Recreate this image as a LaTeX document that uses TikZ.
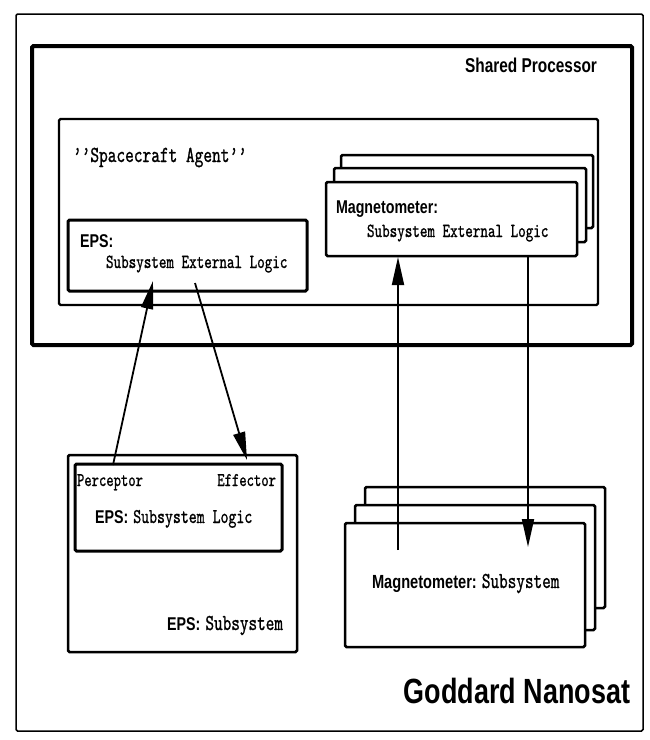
\documentclass[tikz,border=0pt]{standalone}
\usepackage{fontspec}
\usetikzlibrary{arrows.meta}
\newfontfamily\hb{Liberation Sans}[FakeStretch=0.77]
\newfontfamily\tw{lmmono10-regular.otf}[FakeStretch=0.72,FakeBold=0.9]
\begin{document}
\begin{tikzpicture}[x=1pt,y=-1pt,
  box/.style={draw, fill=white, rounded corners=1.5pt, inner sep=0pt, outer sep=0pt, anchor=north west},
  arr/.style={line width=1.8pt, -{Triangle[length=28pt,width=12pt]}},
  lbl/.style={inner sep=0pt, outer sep=0pt}
]
\useasboundingbox (0,0) rectangle (650,740);
\fill[white] (0,0) rectangle (650,740);
% frames
\node[box, line width=1.5pt, minimum width=627pt, minimum height=717pt] (nanosat) at (16,14) {};
\node[box, line width=4pt, minimum width=600pt, minimum height=299pt] (shared) at (32,46) {};
\node[box, line width=2.2pt, minimum width=539pt, minimum height=186pt] (agent) at (59,119) {};
\node[box, line width=3pt, minimum width=239pt, minimum height=71pt] (epsext) at (68,220) {};
% magnetometer external logic stack
\node[box, line width=2.5pt, minimum width=252pt, minimum height=73pt] (magextc) at (341,155) {};
\node[box, line width=2.5pt, minimum width=252pt, minimum height=74pt] (magextb) at (334,168) {};
\node[box, line width=2.5pt, minimum width=251pt, minimum height=74pt] (magext) at (326,182) {};
% EPS subsystem
\node[box, line width=2.5pt, minimum width=229pt, minimum height=197pt] (epssub) at (68,455) {};
\node[box, line width=3pt, minimum width=207pt, minimum height=87pt] (epslogic) at (75,464) {};
% magnetometer subsystem stack
\node[box, line width=2.5pt, minimum width=240pt, minimum height=121pt] (magsubc) at (365,487) {};
\node[box, line width=2.5pt, minimum width=240pt, minimum height=125pt] (magsubb) at (355,505) {};
\node[box, line width=2.5pt, minimum width=240pt, minimum height=124pt] (magsub) at (345,523) {};
% texts
\node[lbl, anchor=base east] (tshared) at (597,72) {\hb\bfseries\fontsize{20}{20}\selectfont Shared Processor};
\node[lbl, anchor=base west] (tagent) at (73,162) {\tw\fontsize{23}{23}\selectfont ’’Spacecraft Agent’’};
\node[lbl, anchor=base west] (teps1) at (80,247) {\hb\bfseries\fontsize{18.5}{18.5}\selectfont EPS:};
\node[lbl, anchor=base west] (teps2) at (106,268) {\tw\fontsize{20}{20}\selectfont Subsystem External Logic};
\node[lbl, anchor=base west] (tmag1) at (336,213) {\hb\bfseries\fontsize{18.5}{18.5}\selectfont Magnetometer:};
\node[lbl, anchor=base west] (tmag2) at (367,237) {\tw\fontsize{20}{20}\selectfont Subsystem External Logic};
\node[lbl, anchor=base west] (tperc) at (77,486) {\tw\fontsize{19.4}{19.4}\selectfont Perceptor};
\node[lbl, anchor=base east] (teff) at (276,486) {\tw\fontsize{19.4}{19.4}\selectfont Effector};
\node[lbl, anchor=base west] (tlogic) at (95,523) {{\hb\bfseries\fontsize{18.5}{18.5}\selectfont EPS:}\hspace{5pt}{\tw\fontsize{21}{21}\selectfont Subsystem Logic}};
\node[lbl, anchor=base east] (tepssub) at (283,630) {{\hb\bfseries\fontsize{18.5}{18.5}\selectfont EPS:}\hspace{5pt}{\tw\fontsize{22.8}{22.8}\selectfont Subsystem}};
\node[lbl, anchor=base west] (tmagsub) at (372,588) {{\hb\bfseries\fontsize{19}{19}\selectfont Magnetometer:}\hspace{5pt}{\tw\fontsize{22.8}{22.8}\selectfont Subsystem}};
\node[lbl, anchor=base east] (tgoddard) at (630,703) {\hb\bfseries\fontsize{35}{35}\selectfont Goddard Nanosat};
% connector end points
\coordinate (percout) at (113,465);
\coordinate (percin) at (153,281);
\coordinate (effout) at (195,283);
\coordinate (effin) at (247,460);
\coordinate (magout) at (398,550);
\coordinate (magin) at (398,257);
\coordinate (magcmd) at (528,256);
\coordinate (magact) at (528,547);
% connectors
\draw[arr] (percout) -- (percin);
\draw[arr] (effout) -- (effin);
\draw[arr] (magout) -- (magin);
\draw[arr] (magcmd) -- (magact);
\end{tikzpicture}
\end{document}
